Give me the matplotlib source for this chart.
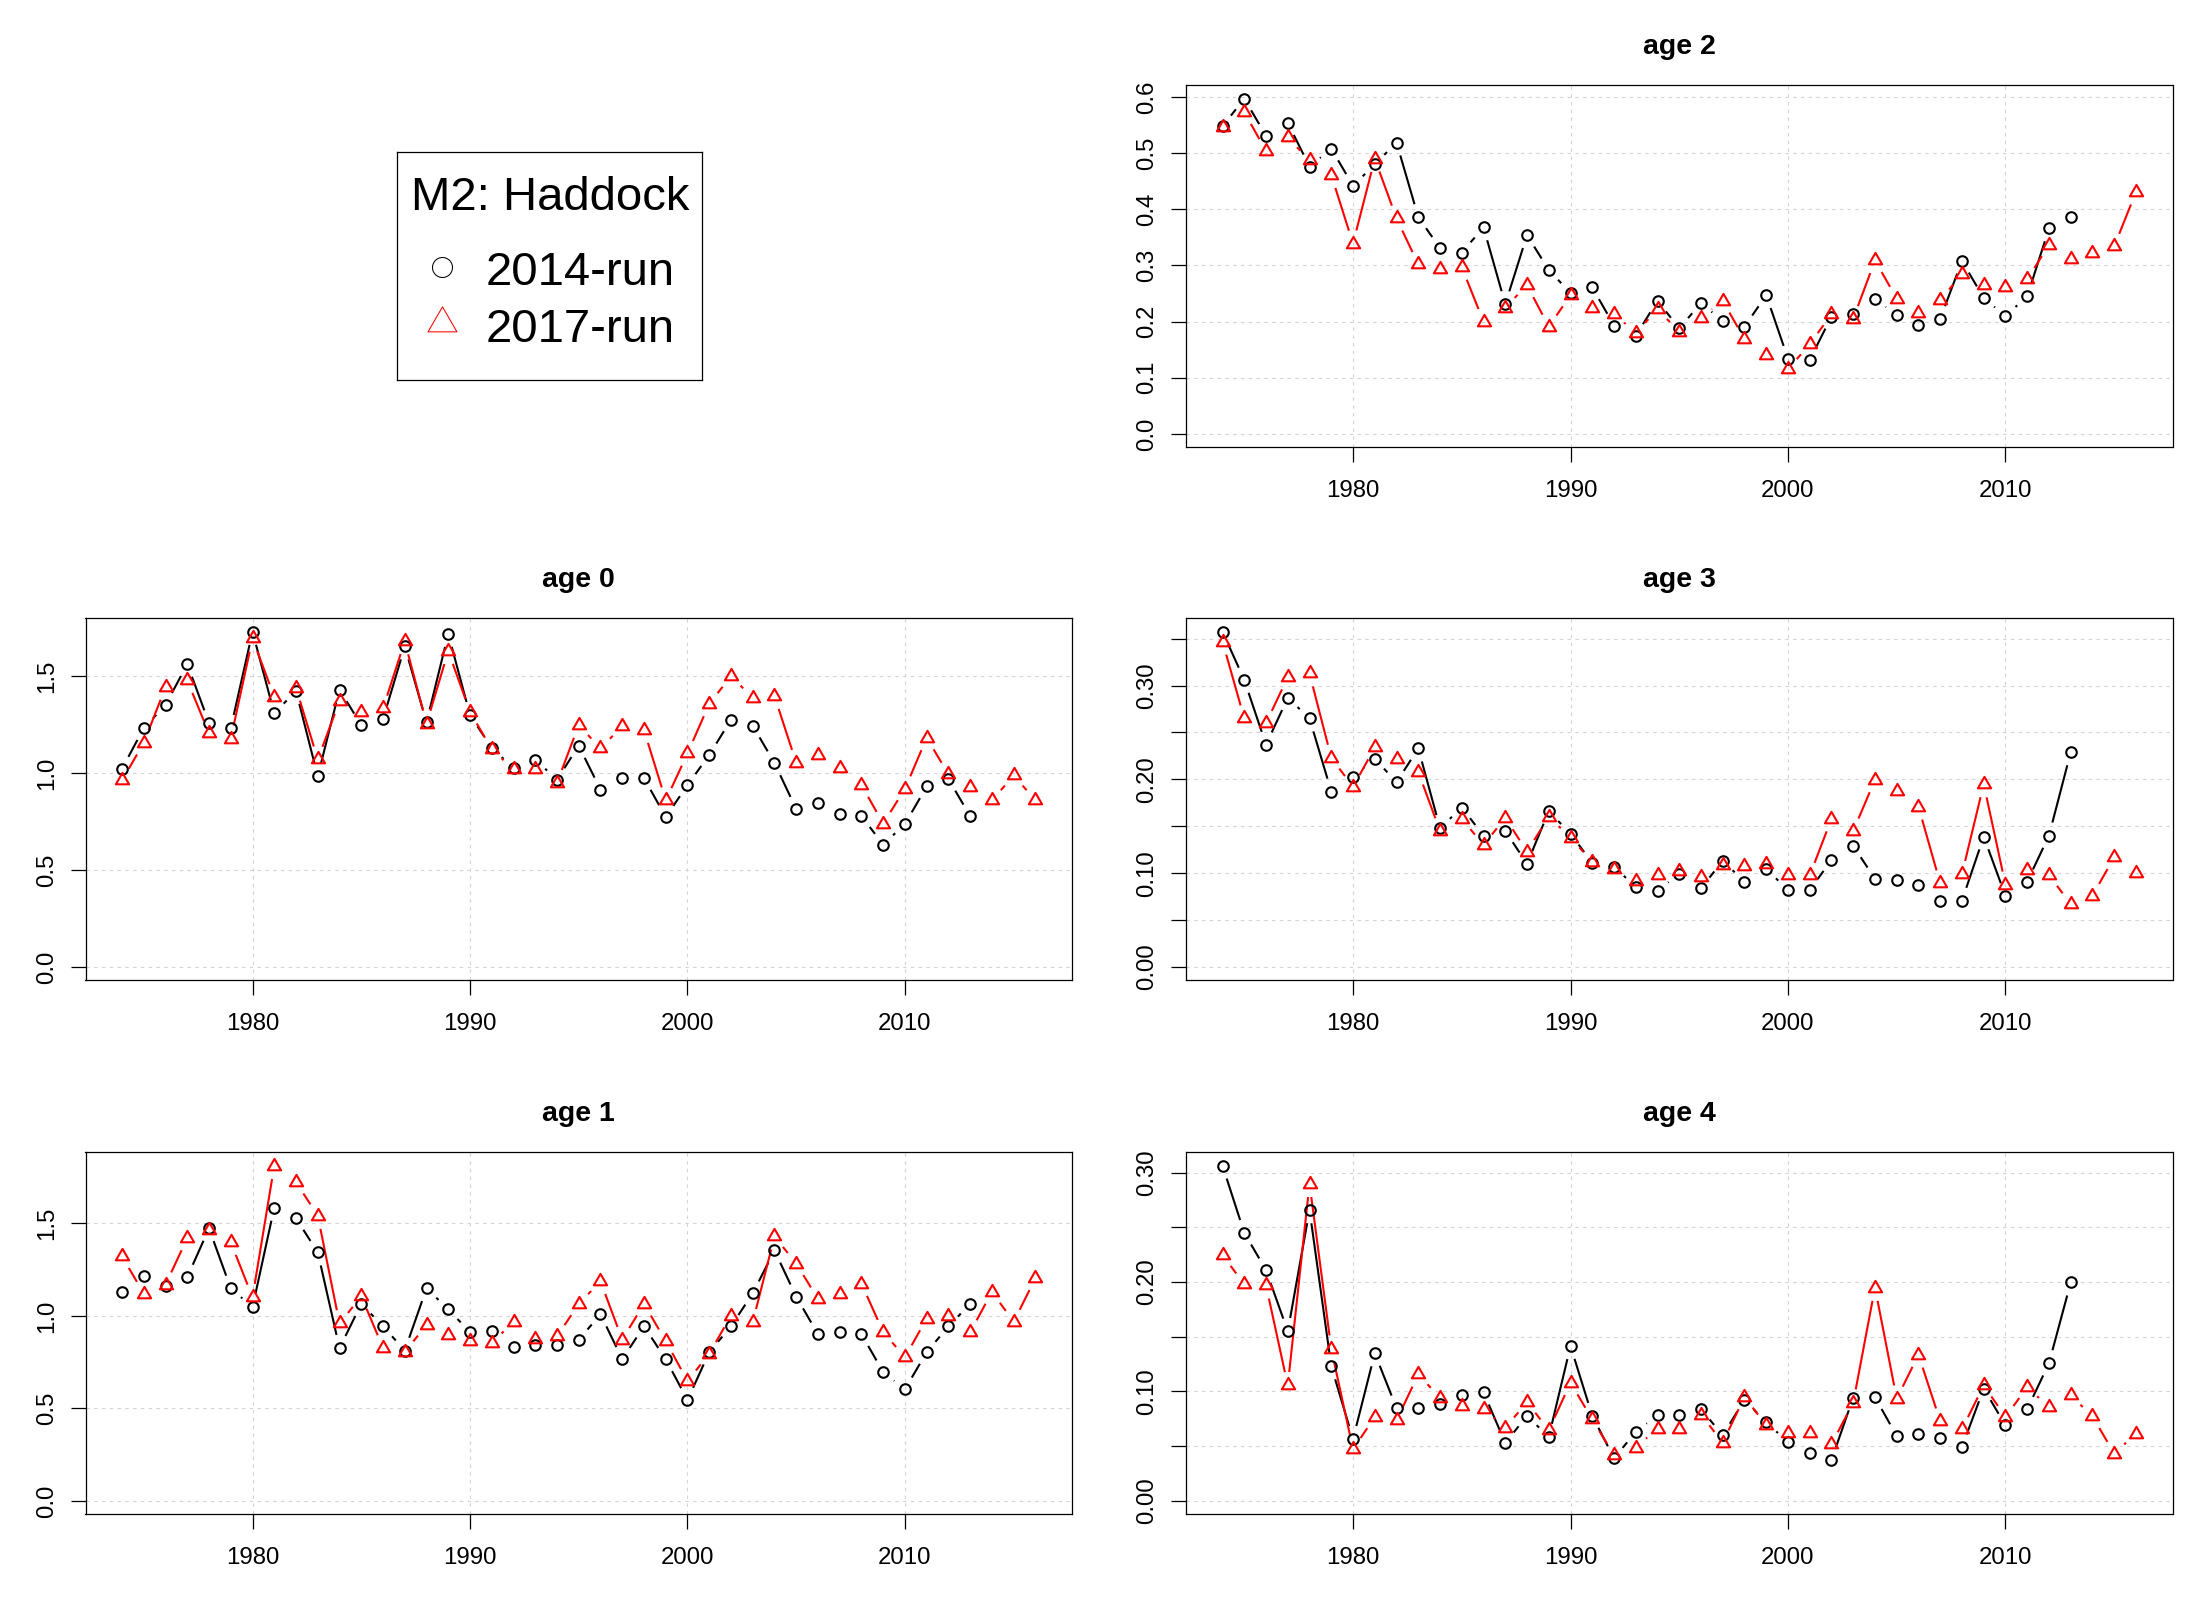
import numpy as np
import matplotlib
matplotlib.use("Agg")
import matplotlib.pyplot as plt
from matplotlib.lines import Line2D
from matplotlib.path import Path
from matplotlib.collections import LineCollection

plt.rcParams['font.family'] = ['Liberation Sans', 'DejaVu Sans']

# ---------------- data ----------------
years_2014 = list(range(1974, 2014))
years_2017 = list(range(1974, 2017))

age0_2014 = [1.022, 1.232, 1.351, 1.562, 1.258, 1.232, 1.729, 1.308, 1.424, 0.983,
             1.430, 1.247, 1.278, 1.653, 1.261, 1.718, 1.299, 1.129, 1.026, 1.069,
             0.966, 1.141, 0.914, 0.974, 0.974, 0.773, 0.938, 1.093, 1.275, 1.244,
             1.052, 0.814, 0.845, 0.789, 0.777, 0.631, 0.737, 0.931, 0.969, 0.777]
age0_2017 = [0.962, 1.156, 1.443, 1.478, 1.204, 1.177, 1.694, 1.393, 1.440, 1.070,
             1.371, 1.316, 1.333, 1.680, 1.254, 1.629, 1.316, 1.122, 1.019, 1.019,
             0.950, 1.247, 1.127, 1.242, 1.222, 0.859, 1.101, 1.357, 1.500, 1.388,
             1.397, 1.053, 1.091, 1.024, 0.938, 0.739, 0.919, 1.182, 0.993, 0.928,
             0.859, 0.988, 0.859]

age1_2014 = [1.128, 1.216, 1.162, 1.210, 1.473, 1.149, 1.047, 1.586, 1.527, 1.344,
             0.826, 1.065, 0.944, 0.813, 1.149, 1.036, 0.912, 0.919, 0.831, 0.842,
             0.842, 0.871, 1.009, 0.766, 0.944, 0.766, 0.545, 0.804, 0.944, 1.122,
             1.354, 1.104, 0.901, 0.912, 0.901, 0.696, 0.604, 0.804, 0.944, 1.065]
age1_2017 = [1.322, 1.121, 1.169, 1.421, 1.466, 1.398, 1.101, 1.812, 1.723, 1.542,
             0.959, 1.106, 0.828, 0.806, 0.950, 0.899, 0.864, 0.855, 0.966, 0.876,
             0.889, 1.065, 1.187, 0.872, 1.065, 0.864, 0.648, 0.795, 1.002, 0.966,
             1.430, 1.283, 1.092, 1.121, 1.175, 0.912, 0.777, 0.986, 1.002, 0.912,
             1.130, 0.968, 1.205]

age2_2014 = [0.548, 0.597, 0.531, 0.554, 0.476, 0.508, 0.442, 0.480, 0.519, 0.386,
             0.331, 0.323, 0.368, 0.231, 0.354, 0.292, 0.251, 0.261, 0.193, 0.175,
             0.237, 0.188, 0.233, 0.201, 0.191, 0.247, 0.134, 0.132, 0.209, 0.214,
             0.241, 0.211, 0.194, 0.205, 0.308, 0.242, 0.210, 0.245, 0.366, 0.386]
age2_2017 = [0.547, 0.573, 0.504, 0.528, 0.487, 0.461, 0.339, 0.490, 0.384, 0.302,
             0.293, 0.297, 0.200, 0.225, 0.265, 0.191, 0.247, 0.224, 0.214, 0.180,
             0.222, 0.182, 0.207, 0.237, 0.169, 0.141, 0.115, 0.160, 0.213, 0.205,
             0.309, 0.241, 0.216, 0.239, 0.284, 0.266, 0.262, 0.275, 0.337, 0.311,
             0.323, 0.334, 0.431]

age3_2014 = [0.3575, 0.306, 0.237, 0.287, 0.265, 0.187, 0.203, 0.222, 0.197, 0.233,
             0.148, 0.170, 0.140, 0.145, 0.110, 0.166, 0.142, 0.111, 0.107, 0.085,
             0.081, 0.0995, 0.084, 0.113, 0.091, 0.1045, 0.082, 0.082, 0.114, 0.129,
             0.094, 0.093, 0.087, 0.0707, 0.0707, 0.139, 0.0757, 0.091, 0.140, 0.229]
age3_2017 = [0.347, 0.265, 0.260, 0.309, 0.313, 0.223, 0.192, 0.234, 0.222, 0.208,
             0.145, 0.158, 0.130, 0.159, 0.123, 0.160, 0.138, 0.112, 0.104, 0.092,
             0.0975, 0.1025, 0.096, 0.109, 0.108, 0.1096, 0.0975, 0.0975, 0.158, 0.145,
             0.1995, 0.188, 0.171, 0.089, 0.099, 0.195, 0.0876, 0.1035, 0.098, 0.067,
             0.076, 0.117, 0.100]

age4_2014 = [0.3064, 0.245, 0.211, 0.155, 0.266, 0.123, 0.0565, 0.135, 0.0848, 0.0848,
             0.0884, 0.097, 0.0994, 0.0529, 0.0778, 0.0584, 0.1416, 0.0778, 0.039, 0.063,
             0.0787, 0.0787, 0.0839, 0.060, 0.0924, 0.0717, 0.0538, 0.0438, 0.0374, 0.0945,
             0.0948, 0.0593, 0.0611, 0.0574, 0.0492, 0.1027, 0.069, 0.0839, 0.1258, 0.1997]
age4_2017 = [0.2247, 0.198, 0.197, 0.1056, 0.290, 0.139, 0.0472, 0.0767, 0.0737, 0.1156,
             0.0944, 0.0868, 0.0843, 0.0667, 0.0904, 0.0646, 0.108, 0.0746, 0.0418, 0.0488,
             0.066, 0.066, 0.0789, 0.0533, 0.095, 0.0691, 0.0621, 0.0621, 0.0518, 0.0898,
             0.195, 0.0934, 0.1336, 0.0728, 0.0655, 0.1056, 0.0767, 0.104, 0.0858, 0.0965,
             0.0773, 0.0433, 0.0615]

panel_titles = ["age 0", "age 1", "age 2", "age 3", "age 4"]
panel_2014 = [age0_2014, age1_2014, age2_2014, age3_2014, age4_2014]
panel_2017 = [age0_2017, age1_2017, age2_2017, age3_2017, age4_2017]
panel_yticks = [[0.0, 0.5, 1.0, 1.5],
                [0.0, 0.5, 1.0, 1.5],
                [0.0, 0.1, 0.2, 0.3, 0.4, 0.5, 0.6],
                [0.0, 0.05, 0.10, 0.15, 0.20, 0.25, 0.30, 0.35],
                [0.0, 0.05, 0.10, 0.15, 0.20, 0.25, 0.30]]
panel_ylabels = [["0.0", "0.5", "1.0", "1.5"],
                 ["0.0", "0.5", "1.0", "1.5"],
                 ["0.0", "0.1", "0.2", "0.3", "0.4", "0.5", "0.6"],
                 ["0.00", "", "0.10", "", "0.20", "", "0.30", ""],
                 ["0.00", "", "0.10", "", "0.20", "", "0.30"]]
x_ticks = [1980, 1990, 2000, 2010]
x_labels = ["1980", "1990", "2000", "2010"]
legend_title = "M2: Haddock"
legend_labels = ["2014-run", "2017-run"]

# ---------------- layout ----------------
W, H = 2200, 1600
DPI = 100
fig = plt.figure(figsize=(W / DPI, H / DPI), dpi=DPI)

col_left = [85.5, 1186.0]
col_w = 986.5
row_top = [85.3, 618.3, 1152.3]
row_h = 362.0
# panel -> (row, col)
panel_pos = [(1, 0), (2, 0), (0, 1), (1, 1), (2, 1)]

tri_path = Path([(0, 1), (-0.866, -0.5), (0.866, -0.5), (0, 1)],
                [Path.MOVETO, Path.LINETO, Path.LINETO, Path.CLOSEPOLY])

GAP_PX = 13.5
LW = 1.5


def gapped_lines(ax, xs, ys, color):
    pts = ax.transData.transform(np.column_stack([xs, ys]))
    inv = ax.transData.inverted()
    segs = []
    for p, q in zip(pts[:-1], pts[1:]):
        d = q - p
        L = np.hypot(d[0], d[1])
        if L > 2 * GAP_PX + 0.5:
            u = d / L
            a = inv.transform(p + u * GAP_PX)
            b = inv.transform(q - u * GAP_PX)
            segs.append([a, b])
    lc = LineCollection(segs, colors=color, linewidths=LW, capstyle='butt', zorder=3)
    ax.add_collection(lc)


for i in range(5):
    r, c = panel_pos[i]
    left = col_left[c] / W
    bottom = 1 - (row_top[r] + row_h) / H
    ax = fig.add_axes([left, bottom, col_w / W, row_h / H])

    y1 = panel_2014[i]
    y2 = panel_2017[i]
    ymax = max(max(y1), max(y2))
    ax.set_ylim(-0.04 * ymax, 1.04 * ymax)
    span = years_2017[-1] - years_2017[0]
    ax.set_xlim(years_2017[0] - 0.04 * span, years_2017[-1] + 0.04 * span)

    ax.set_xticks(x_ticks)
    ax.set_xticklabels(x_labels)
    ax.set_yticks(panel_yticks[i])
    ax.set_yticklabels(panel_ylabels[i])

    ax.grid(True, color='#D3D3D3', linestyle=(0, (3, 4)), linewidth=0.8)
    ax.set_axisbelow(True)

    ax.tick_params(axis='both', direction='out', length=10.8, width=0.9,
                   labelsize=17.3, color='black')
    ax.tick_params(axis='x', pad=13)
    ax.tick_params(axis='y', pad=9, labelrotation=90)
    for lab in ax.get_yticklabels():
        lab.set_va('center')
    for sp in ax.spines.values():
        sp.set_linewidth(0.9)
        sp.set_color('black')

    ax.set_title(panel_titles[i], fontsize=20.5, fontweight='bold', pad=22.3)

    # 2014-run (black circles, type "b")
    gapped_lines(ax, years_2014, y1, 'black')
    ax.plot(years_2014, y1, linestyle='none', marker='o', ms=7.6,
            mfc='none', mec='black', mew=1.5, zorder=4)
    # 2017-run (red triangles, type "b")
    gapped_lines(ax, years_2017, y2, '#FF0000')
    ax.plot(years_2017, y2, linestyle='none', marker=tri_path, ms=11,
            mfc='none', mec='#FF0000', mew=1.5, zorder=5)

# ---------------- legend (top-left cell) ----------------
lb_l, lb_t, lb_r, lb_b = 397, 152, 702, 380
lax = fig.add_axes([lb_l / W, 1 - lb_b / H, (lb_r - lb_l) / W, (lb_b - lb_t) / H])
lax.set_xticks([])
lax.set_yticks([])
lax.patch.set_alpha(0)
for sp in lax.spines.values():
    sp.set_linewidth(0.9)
    sp.set_color('black')

fig.text(550 / W, 1 - 210 / H, legend_title, ha='center', va='baseline', fontsize=34)
fig.text(486 / W, 1 - 285 / H, legend_labels[0], ha='left', va='baseline', fontsize=34)
fig.text(486 / W, 1 - 342 / H, legend_labels[1], ha='left', va='baseline', fontsize=34)
fig.add_artist(Line2D([442 / W], [1 - 267 / H], transform=fig.transFigure,
                      linestyle='none', marker='o', ms=14.4, mfc='none',
                      mec='black', mew=0.75))
fig.add_artist(Line2D([442 / W], [1 - 323 / H], transform=fig.transFigure,
                      linestyle='none', marker=tri_path, ms=24, mfc='none',
                      mec='#FF0000', mew=0.75))

fig.savefig("out.png", dpi=DPI, facecolor='white')
